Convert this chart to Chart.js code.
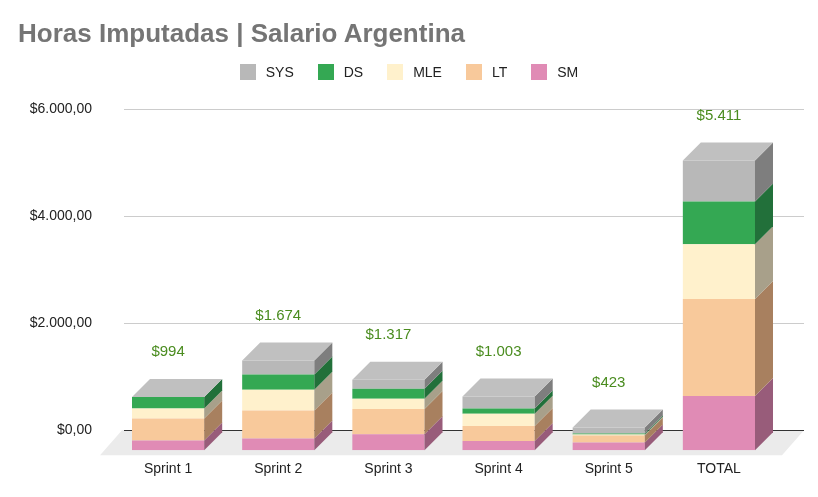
<!DOCTYPE html>
<html>
<head>
<meta charset="utf-8">
<script src="https://cdn.jsdelivr.net/npm/chart.js@4"></script>
<style>
  html, body { margin: 0; padding: 0; background: #fff; }
  #wrap { position: relative; width: 818px; height: 497px; font-family: Arial, "Liberation Sans", sans-serif; }
  #title { position: absolute; left: 18px; top: 18px; font-size: 26px; font-weight: bold; color: #757575; }
  #legend { position: absolute; left: 0; width: 818px; top: 64px; display: flex; justify-content: center; font-size: 14px; color: #222; }
  .item { display: flex; align-items: center; margin: 0 12px; }
  .box { width: 16px; height: 16px; margin-right: 10px; }
</style>
</head>
<body>
<div id="wrap">
  <canvas id="chart"></canvas>
  <div id="title">Horas Imputadas | Salario Argentina</div>
  <div id="legend"></div>
</div>
<script>
const categories = ['Sprint 1', 'Sprint 2', 'Sprint 3', 'Sprint 4', 'Sprint 5', 'TOTAL'];
const seriesNames = ['SM', 'LT', 'MLE', 'DS', 'SYS'];
const smValues  = [180, 220, 300, 170, 143, 1013];
const ltValues  = [410, 520, 470, 280, 130, 1810];
const mleValues = [190, 390, 190, 233, 20, 1023];
const dsValues  = [214, 284, 187, 95, 20, 800];
const sysValues = [0, 260, 170, 225, 110, 765];
const totalLabels = ['$994', '$1.674', '$1.317', '$1.003', '$423', '$5.411'];
const yTicks = [0, 2000, 4000, 6000];
const yTickLabels = ['$0,00', '$2.000,00', '$4.000,00', '$6.000,00'];

const colors = ['#e08bb5', '#f8c99b', '#fff1cc', '#34a853', '#b8b8b8'];
const sideColors = ['#985c7a', '#a8805f', '#a8a08a', '#22703a', '#7e7e7e'];
const topColor = '#c0c0c0';
const DX = 18, DY = -18, GRID_DY = -20;

// legend, same order as the reference (top series first)
const legend = document.getElementById('legend');
for (let i = seriesNames.length - 1; i >= 0; i--) {
  const item = document.createElement('div');
  item.className = 'item';
  item.innerHTML = '<span class="box" style="background:' + colors[i] + '"></span>' + seriesNames[i];
  legend.appendChild(item);
}

const threeD = {
  id: 'threeD',
  beforeDatasetsDraw(chart) {
    const ctx = chart.ctx, a = chart.chartArea, y = chart.scales.y;
    ctx.save();
    // floor
    ctx.fillStyle = '#ebebeb';
    ctx.beginPath();
    ctx.moveTo(100, a.bottom + 5);
    ctx.lineTo(782, a.bottom + 5);
    ctx.lineTo(804, a.bottom + GRID_DY);
    ctx.lineTo(122, a.bottom + GRID_DY);
    ctx.closePath();
    ctx.fill();
    // grid + y labels
    ctx.font = '14px Arial, "Liberation Sans"';
    ctx.textAlign = 'right';
    ctx.textBaseline = 'middle';
    yTicks.forEach((v, i) => {
      const py = Math.round(y.getPixelForValue(v) + GRID_DY) + 0.5;
      ctx.strokeStyle = v === 0 ? '#333' : '#ccc';
      ctx.lineWidth = 1;
      ctx.beginPath();
      ctx.moveTo(124, py);
      ctx.lineTo(804, py);
      ctx.stroke();
      ctx.fillStyle = '#222';
      ctx.fillText(yTickLabels[i], 92, py);
    });
    ctx.restore();
  },
  afterDatasetsDraw(chart) {
    const ctx = chart.ctx;
    ctx.save();
    const n = categories.length;
    for (let c = 0; c < n; c++) {
      let topY = null, left = 0, right = 0;
      chart.data.datasets.forEach((ds, d) => {
        const el = chart.getDatasetMeta(d).data[c];
        left = el.x - el.width / 2;
        right = el.x + el.width / 2;
        const t = Math.min(el.y, el.base), b = Math.max(el.y, el.base);
        if (b - t < 0.5) return;
        ctx.fillStyle = sideColors[d];
        ctx.beginPath();
        ctx.moveTo(right, b);
        ctx.lineTo(right + DX, b + DY);
        ctx.lineTo(right + DX, t + DY);
        ctx.lineTo(right, t);
        ctx.closePath();
        ctx.fill();
        if (topY === null || t < topY) topY = t;
      });
      ctx.fillStyle = topColor;
      ctx.beginPath();
      ctx.moveTo(left, topY);
      ctx.lineTo(left + DX, topY + DY);
      ctx.lineTo(right + DX, topY + DY);
      ctx.lineTo(right, topY);
      ctx.closePath();
      ctx.fill();
      ctx.fillStyle = '#4a8c1f';
      ctx.font = '15px Arial, "Liberation Sans"';
      ctx.textAlign = 'center';
      ctx.textBaseline = 'middle';
      ctx.fillText(totalLabels[c], (left + right) / 2, topY - 45);
    }
    ctx.restore();
  }
};

const valueSets = [smValues, ltValues, mleValues, dsValues, sysValues];
const datasets = seriesNames.map((name, i) => ({
  label: name,
  data: valueSets[i],
  backgroundColor: colors[i],
  borderWidth: 0,
  categoryPercentage: 1,
  barPercentage: 0.655
}));

new Chart(document.getElementById('chart'), {
  type: 'bar',
  data: { labels: categories, datasets: datasets },
  plugins: [threeD],
  options: {
    responsive: true,
    maintainAspectRatio: false,
    animation: false,
    layout: { padding: { left: 113, right: 44, top: 129, bottom: 16 } },
    plugins: {
      title: { display: false },
      legend: { display: false },
      tooltip: { enabled: false }
    },
    scales: {
      x: {
        stacked: true,
        grid: { display: false },
        border: { display: false },
        ticks: { color: '#222', font: { size: 14, family: 'Arial, "Liberation Sans"' } }
      },
      y: { stacked: true, display: false, min: 0, max: 6000 }
    }
  }
});
</script>
</body>
</html>
